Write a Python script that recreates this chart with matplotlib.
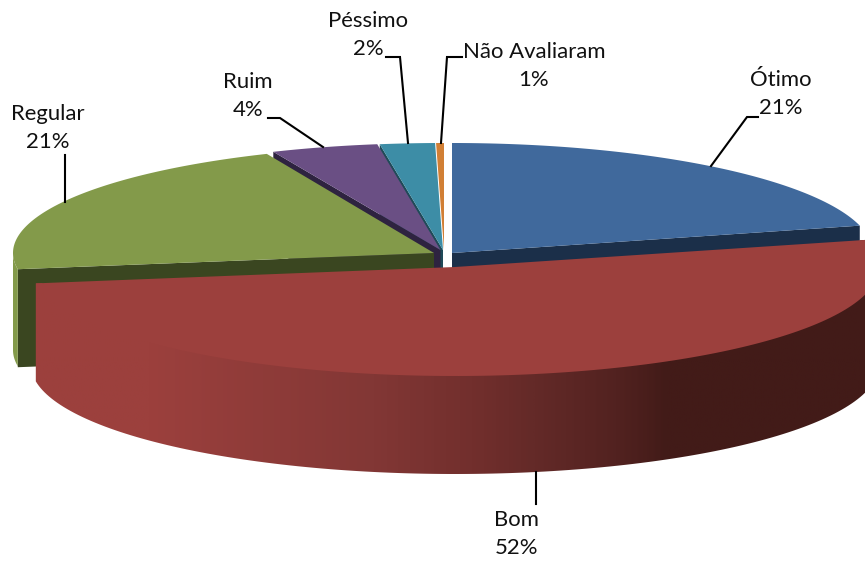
import numpy as np
import matplotlib
matplotlib.use("Agg")
import matplotlib.pyplot as plt
from matplotlib.colors import LinearSegmentedColormap
from matplotlib.patches import Polygon

# --- data ---
categories = ["Ótimo", "Bom", "Regular", "Ruim", "Péssimo", "Não Avaliaram"]
shares = [21.0, 51.6, 20.9, 4.1, 2.1, 0.3]       # slice sizes
pct_labels = ["21%", "52%", "21%", "4%", "2%", "1%"]

# --- style / layout ---
W, H = 865, 561
top_colors = ["#40699c", "#9c403d", "#839a4a", "#6a4f84", "#3d8da6", "#d17f35"]
wall_colors = ["#1b2f49", "#9c403d", "#3a4620", "#2e2340", "#1f4a58", "#7a4a1c"]
centers = [(452, 253), (455, 267), (434, 253), (440.5, 250), (443, 250), (444, 250)]
radii = [(421, 110), (424, 109), (421, 108), (421, 107), (421, 107), (421, 107)]
depth = 98
wall_edge = ["end", None, "start", "start", "start", None]
leaders = [
    [(711, 166), (747, 117), (758, 117)],
    [(536, 472), (536, 504)],
    [(65, 202), (65, 155)],
    [(323, 147), (280, 118), (268, 118)],
    [(408, 143), (400, 57), (386, 57)],
    [(441, 143), (447, 57), (462, 57)],
]
label_pos = [(781, 94), (517, 534), (48, 128), (248, 96), (368, 35), (534, 66)]

plt.rcParams["font.family"] = ["Lato", "DejaVu Sans"]
fig = plt.figure(figsize=(W / 100, H / 100), dpi=100)
ax = fig.add_axes([0, 0, 1, 1])

total = sum(shares)
edges = np.concatenate([[0], np.cumsum(shares)]) / total * 360.0


def arc(i, a0=None, a1=None, n=160, scale=1.0):
    a0 = edges[i] if a0 is None else a0
    a1 = edges[i + 1] if a1 is None else a1
    t = np.radians(np.linspace(a0, a1, n))
    cx, cy = centers[i]
    rx, ry = radii[i]
    return np.column_stack([cx + scale * rx * np.sin(t), cy - scale * ry * np.cos(t)])


def wall(i, which):
    a = edges[i] if which == "start" else edges[i + 1]
    p = arc(i, a, a, 1)[0]
    c = centers[i]
    pts = [c, p, (p[0], p[1] + depth), (c[0], c[1] + depth)]
    ax.fill(*zip(*pts), color=wall_colors[i], lw=0, zorder=z[i])


def top(i):
    pts = np.vstack([[centers[i]], arc(i)])
    ax.fill(pts[:, 0], pts[:, 1], color=top_colors[i], lw=0, zorder=z[i] + 0.2)


# back-to-front stacking
z = {5: 1, 4: 2, 3: 3, 2: 4, 0: 5, 1: 6}
for i in [5, 4, 3, 2, 0]:
    if wall_edge[i]:
        wall(i, wall_edge[i])
    top(i)

# outer rim of the Regular slice on the far left
rim = arc(2, edges[2], 270, 30)
rim_poly = np.vstack([rim, rim[::-1] + [0, depth - 1]])
ax.fill(rim_poly[:, 0], rim_poly[:, 1], color=top_colors[2], lw=0, zorder=z[2] + 0.1)

# Bom: gradient side wall, then top surface
a = arc(1)
inner = arc(1, scale=0.985)
side = np.vstack([a[:1], inner, a[-1:], a[::-1] + [0, depth]])
clip = Polygon(side, closed=True, transform=ax.transData, fc="none", ec="none")
ax.add_patch(clip)
cmap = LinearSegmentedColormap.from_list(
    "side",
    [(0, "#9c403d"), (0.14, "#9c403d"), (0.41, "#823735"), (0.54, "#702e2c"),
     (0.60, "#642a28"), (0.70, "#522220"), (0.76, "#421b18"), (1, "#421b18")],
)
grad = np.linspace(0, 1, 400)[None, :]
im = ax.imshow(grad, cmap=cmap, extent=(30, 870, 490, 230), aspect="auto", zorder=6)
im.set_clip_path(clip)
top(1)

# leader lines and labels
for pts in leaders:
    xs, ys = zip(*pts)
    ax.plot(xs, ys, color="black", lw=1.5, zorder=8, solid_joinstyle="miter")
for name, pct, (x, y) in zip(categories, pct_labels, label_pos):
    ax.text(x, y, f"{name}\n{pct}", ha="center", va="center", fontsize=15.9,
            color="#111111", linespacing=1.53, zorder=9)

ax.set_xlim(0, W)
ax.set_ylim(H, 0)
ax.axis("off")
fig.savefig("out.png", dpi=100, facecolor="white")
